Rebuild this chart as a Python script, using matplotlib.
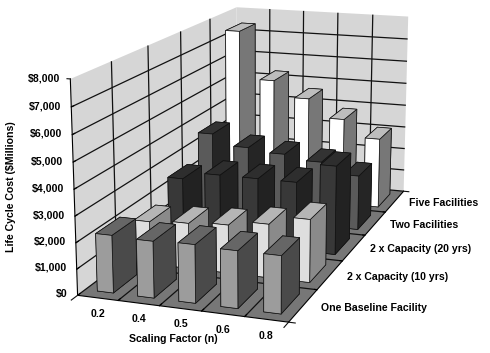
import matplotlib
matplotlib.use("Agg")
import matplotlib.pyplot as plt
from mpl_toolkits.mplot3d import proj3d

plt.rcParams["font.family"] = ["Liberation Sans", "DejaVu Sans"]

factors = ["0.2", "0.4", "0.5", "0.6", "0.8"]
options = ["One Baseline Facility", "2 x Capacity (10 yrs)", "2 x Capacity (20 yrs)",
           "Two Facilities", "Five Facilities"]
baseline = [2200, 2150, 2200, 2150, 2150]
cap_10 = [1700, 1800, 1900, 2100, 2450]
cap_20 = [2500, 2800, 2800, 2800, 3600]
two_fac = [3560, 3100, 2950, 2750, 2300]
five_fac = [7400, 5300, 4600, 3800, 3050]
series = [baseline, cap_10, cap_20, two_fac, five_fac]
z_ticks = [0, 1000, 2000, 3000, 4000, 5000, 6000, 7000, 8000]

# bottom, top, front, back, left, right
face_colors = [
    ["#444444", "#666666", "#9c9c9c", "#444444", "#444444", "#4a4a4a"],
    ["#444444", "#b5b5b5", "#dedede", "#444444", "#444444", "#8a8a8a"],
    ["#222222", "#2e2e2e", "#383838", "#222222", "#222222", "#222222"],
    ["#222222", "#333333", "#5a5a5a", "#222222", "#222222", "#252525"],
    ["#444444", "#bdbdbd", "#ffffff", "#444444", "#444444", "#777777"],
]
label_size = 7.6
ink = "#111111"

fig = plt.figure(figsize=(4.9, 3.53), dpi=100)
# rect and view come from fitting the wall corners of the reference
ax = fig.add_axes([0.01055, -0.1223, 1.00831, 1.39963], projection="3d")
ax.set_proj_type("persp", focal_length=0.532)
ax.view_init(elev=14.35, azim=-70.93)
ax.set_box_aspect((1, 2.1136, 0.9962))
ax.computed_zorder = False

nx, ny = len(factors), len(options)
width, depth = 0.40, 0.62
for j in range(ny - 1, -1, -1):
    for i in range(nx):
        ax.bar3d(i + (1 - width) / 2, j + (1 - depth) / 2, 0, width, depth, series[j][i],
                 color=face_colors[j], shade=False, edgecolor=ink,
                 linewidth=0.5, zorder=10 + (ny - j) * 10 + i)

ax.set_xlim(0, nx)
ax.set_ylim(0, ny)
ax.set_zlim(0, 8000)
# edge ticks are drawn by hand below, the walls have no grid line along their rim
ax.set_xticks(range(1, nx))
ax.set_yticks(range(1, ny))
ax.set_zticks(z_ticks[:-1])
ax.set_xticklabels([])
ax.set_yticklabels([])
ax.set_zticklabels([])
ax.zaxis.set_ticks_position("lower")

for axis, color in ((ax.xaxis, "#d6d6d6"), (ax.yaxis, "#d6d6d6"), (ax.zaxis, "#777777")):
    axis.pane.set_facecolor(color)
    axis.pane.set_alpha(1)
    axis.pane.set_edgecolor("none")
    axis._axinfo["grid"].update(color=ink, linewidth=0.9)
    axis._axinfo["axisline"]["color"] = ink
    axis._axinfo["tick"].update(inward_factor=0, outward_factor=0.15, color=ink)

ax.plot([0, 0], [0, -0.15], [0, 0], color=ink, linewidth=0.8, zorder=5)
ax.plot([nx, nx], [0, -0.15], [0, 0], color=ink, linewidth=0.8, zorder=5)
ax.plot([nx, nx + 0.15], [0, 0], [0, 0], color=ink, linewidth=0.8, zorder=5)
ax.plot([nx, nx + 0.15], [ny, ny], [0, 0], color=ink, linewidth=0.8, zorder=5)
ax.plot([0, -0.08], [0, 0], [8000, 8000], color=ink, linewidth=0.8, zorder=5)
ax.set_xlim(0, nx)
ax.set_ylim(0, ny)
ax.set_zlim(0, 8000)

M = ax.get_proj()


def label(x, y, z, s, **kw):
    # place a flat label at a projected point of the box
    px, py, _ = proj3d.proj_transform(x, y, z, M)
    ax.text2D(px, py, s, transform=ax.transData, va="center", fontsize=label_size,
              fontweight="bold", **kw)


for v in z_ticks:
    label(-0.25, 0, v, f"\\${v:,}", ha="right")
for i, f in enumerate(factors):
    label(i + 0.5, 0, -600, f, ha="center")
for j, o in enumerate(options):
    label(nx + 0.4, j + 0.5, 0, o, ha="left")

fig.text(11 / 490, 1 - 187 / 353, r"Life Cycle Cost (\$Millions)", rotation=90, ha="center", va="center",
         fontsize=label_size, fontweight="bold")
fig.text(173 / 490, 1 - 339 / 353, "Scaling Factor (n)", ha="center", va="center",
         fontsize=label_size, fontweight="bold")

fig.savefig("out.png", dpi=100)
